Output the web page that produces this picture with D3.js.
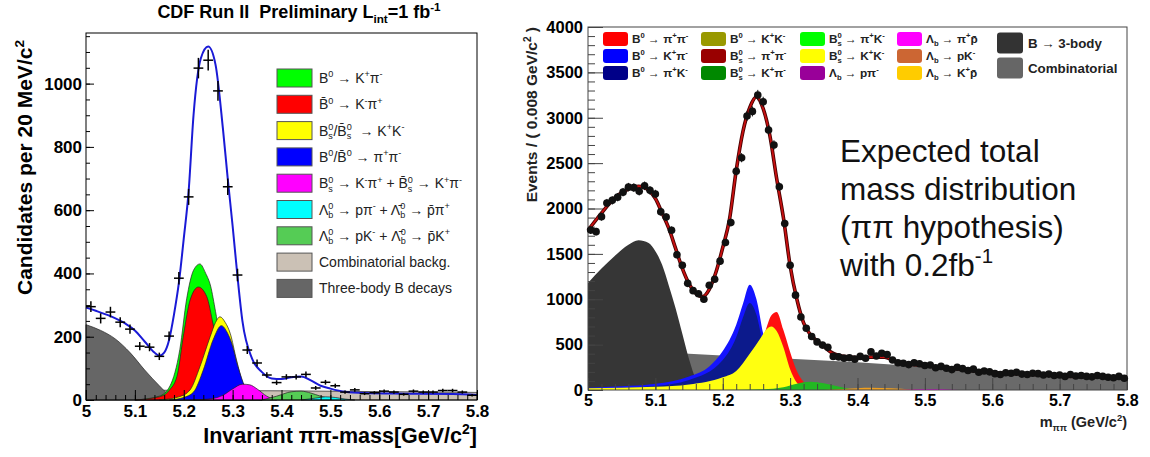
<!DOCTYPE html>
<html>
<head>
<meta charset="utf-8">
<script src="https://cdn.jsdelivr.net/npm/d3@7"></script>
<style>
body { margin: 0; background: #fff; }
text { font-family: "Liberation Sans", Arial, Helvetica, sans-serif; }
</style>
</head>
<body>
<svg id="chart" width="1150" height="457"></svg>
<script>
// ---------- left panel (CDF) ----------
const leftBinStart = 5.0, leftBinWidth = 0.02
const leftCounts = [295, 258, 278, 246, 224, 170, 167, 138, 202, 385,
    642, 1049, 1074, 977, 674, 395, 158, 117, 79, 55,
    73, 73, 81, 38, 56, 45, 25, 32, 20, 23,
    28, 25, 18, 28, 25, 25, 30, 30, 25, 15]
const leftFit = [[5.0, 292], [5.02, 282], [5.05, 265], [5.08, 242], [5.1, 220], [5.12, 185], [5.14, 150],
    [5.15, 140], [5.16, 150], [5.17, 190], [5.18, 270], [5.19, 370], [5.2, 510], [5.21, 660], [5.22, 900],
    [5.235, 1080], [5.25, 1117], [5.265, 1060], [5.28, 860], [5.29, 700], [5.3, 550], [5.31, 390],
    [5.32, 250], [5.34, 130], [5.36, 88], [5.38, 68], [5.4, 66], [5.42, 72], [5.44, 74], [5.46, 62],
    [5.48, 45], [5.5, 36], [5.53, 26], [5.57, 22], [5.65, 20], [5.75, 19], [5.8, 16]]
const leftCombinatorial = [[5.0, 32], [5.4, 29], [5.8, 24]]
const leftThreeBody = [[5.0, 238], [5.03, 220], [5.06, 193], [5.09, 150], [5.12, 95], [5.15, 45], [5.17, 15], [5.185, 0]]
const leftKpi = [[5.1, 0], [5.15, 12], [5.172, 45], [5.192, 160], [5.206, 320], [5.22, 410], [5.233, 430],
    [5.245, 400], [5.255, 360], [5.265, 280], [5.28, 150], [5.3, 50], [5.33, 10], [5.36, 0]]
const leftKbarPi = [[5.1, 0], [5.15, 10], [5.17, 30], [5.186, 74], [5.2, 210], [5.213, 316], [5.23, 357],
    [5.247, 327], [5.26, 240], [5.275, 120], [5.29, 40], [5.31, 10], [5.33, 0]]
const leftKK = [[5.15, 0], [5.19, 10], [5.213, 32], [5.233, 105], [5.254, 200], [5.265, 245], [5.274, 263],
    [5.285, 245], [5.295, 211], [5.308, 126], [5.321, 53], [5.335, 15], [5.36, 0]]
const leftPiPi = [[5.17, 0], [5.2, 8], [5.22, 25], [5.24, 95], [5.26, 190], [5.277, 235], [5.29, 210],
    [5.298, 180], [5.311, 105], [5.325, 42], [5.34, 8], [5.36, 0]]
const leftBsKpi = [[5.22, 0], [5.26, 5], [5.28, 15], [5.3, 35], [5.32, 50], [5.335, 48], [5.35, 35], [5.37, 12], [5.39, 0]]
const leftLbPK = [[5.36, 0], [5.39, 12], [5.42, 26], [5.44, 28], [5.46, 22], [5.48, 12], [5.5, 5], [5.53, 0]]
const leftLbPPi = [[5.44, 0], [5.47, 6], [5.49, 10], [5.51, 8], [5.53, 3], [5.55, 0]]

const leftLegend = [
    ["B^{0} → K^{+}π^{-}", "#00ff00"],
    ["B\u0304^{0} → K^{-}π^{+}", "#ff0000"],
    ["B_{s}^{0}/B\u0304_{s}^{0}\u00a0 → K^{+}K^{-}", "#ffff00"],
    ["B^{0}/B\u0304^{0} → π^{+}π^{-}", "#0000ff"],
    ["B_{s}^{0} → K^{-}π^{+} + B\u0304_{s}^{0} → K^{+}π^{-}", "#ff00ff"],
    ["Λ_{b}^{0} → pπ^{-} + Λ\u0304_{b}^{0} → p\u0304π^{+}", "#00ffff"],
    ["Λ_{b}^{0} → pK^{-} + Λ\u0304_{b}^{0} → p\u0304K^{+}", "#55cc55"],
    ["Combinatorial backg.", "#cbc1b5"],
    ["Three-body B decays", "#666666"]
]

// ---------- right panel (expected) ----------
const rightBinStart = 5.0, rightBinWidth = 0.008
const rightCounts = [1762, 1745, 1910, 2060, 2090, 2125, 2180, 2235, 2230, 2190,
    2250, 2200, 2160, 1965, 1905, 1760, 1490, 1375, 1175, 1095,
    1060, 1000, 1155, 1220, 1420, 1625, 1845, 2410, 2560, 3020,
    3070, 3250, 3175, 2865, 2700, 2240, 1835, 1375, 1045, 805,
    680, 590, 530, 495, 470, 370, 365, 350, 355, 340,
    370, 350, 420, 375, 405, 390, 330, 300, 295, 280,
    300, 290, 270, 275, 245, 260, 240, 225, 250, 235,
    215, 230, 195, 210, 200, 180, 170, 190, 185, 195,
    175, 170, 185, 180, 165, 175, 160, 165, 150, 170,
    155, 160, 150, 145, 160, 150, 140, 135, 150, 130]
const rightFit = [[5.0, 1760], [5.02, 1950], [5.04, 2120], [5.06, 2215], [5.075, 2245], [5.09, 2200],
    [5.1, 2110], [5.11, 1950], [5.12, 1780], [5.13, 1560], [5.14, 1340], [5.15, 1170], [5.16, 1065],
    [5.17, 1030], [5.18, 1110], [5.19, 1300], [5.2, 1570], [5.21, 1880], [5.22, 2420], [5.23, 2850],
    [5.24, 3110], [5.25, 3230], [5.26, 3100], [5.27, 2800], [5.28, 2330], [5.29, 1900], [5.3, 1370],
    [5.31, 1000], [5.32, 740], [5.33, 610], [5.34, 540], [5.35, 480], [5.36, 420], [5.37, 385],
    [5.39, 362], [5.4, 355], [5.42, 362], [5.44, 362], [5.46, 305], [5.5, 268], [5.55, 232],
    [5.6, 192], [5.65, 177], [5.7, 156], [5.75, 148], [5.8, 142]]
const rightCombinatorial = [[5.0, 470], [5.15, 400], [5.3, 345], [5.4, 305], [5.5, 255], [5.6, 210], [5.7, 170], [5.8, 135]]
const rightThreeBody = [[5.0, 1180], [5.02, 1340], [5.04, 1480], [5.06, 1600], [5.075, 1650], [5.09, 1620],
    [5.1, 1530], [5.11, 1380], [5.12, 1150], [5.13, 900], [5.14, 620], [5.15, 340], [5.16, 120], [5.17, 0]]
const rightKpi = [[5.0, 25], [5.05, 40], [5.1, 68], [5.15, 150], [5.18, 260], [5.2, 430], [5.22, 720],
    [5.23, 950], [5.24, 1160], [5.25, 1000], [5.26, 620], [5.27, 300], [5.28, 150], [5.3, 60], [5.33, 20], [5.4, 5]]
const rightPiK = [[5.0, 15], [5.1, 45], [5.15, 110], [5.2, 330], [5.22, 580], [5.23, 800], [5.24, 960],
    [5.25, 830], [5.26, 500], [5.27, 250], [5.3, 40], [5.33, 5]]
const rightPiPi = [[5.0, 8], [5.2, 60], [5.24, 220], [5.255, 450], [5.265, 690], [5.272, 820], [5.28, 860],
    [5.29, 660], [5.3, 420], [5.31, 210], [5.32, 90], [5.33, 30], [5.35, 5]]
const rightBsKK = [[5.0, 20], [5.1, 35], [5.15, 60], [5.2, 140], [5.22, 210], [5.24, 400], [5.255, 560],
    [5.265, 670], [5.272, 700], [5.28, 650], [5.29, 470], [5.3, 230], [5.31, 80], [5.32, 20], [5.34, 0]]
const rightBsKpi = [[5.2, 0], [5.26, 8], [5.29, 30], [5.31, 70], [5.33, 90], [5.35, 75], [5.37, 40], [5.39, 10], [5.41, 0]]
const rightLbKp = [[5.35, 0], [5.38, 12], [5.42, 25], [5.45, 18], [5.48, 5], [5.5, 0]]
const rightLbPip = [[5.46, 0], [5.48, 6], [5.51, 8], [5.54, 4], [5.56, 0]]

const rightLegend = [
    ["B^{0} → π^{+}π^{-}", "#ff0000"], ["B^{0} → K^{+}π^{-}", "#0000ff"], ["B^{0} → π^{+}K^{-}", "#000088"],
    ["B^{0} → K^{+}K^{-}", "#999900"], ["B_{s}^{0} → π^{+}π^{-}", "#990000"], ["B_{s}^{0} → K^{+}π^{-}", "#008800"],
    ["B_{s}^{0} → π^{+}K^{-}", "#00ff00"], ["B_{s}^{0} → K^{+}K^{-}", "#ffff00"], ["Λ_{b} → pπ^{-}", "#990099"],
    ["Λ_{b} → π^{+}p\u0304", "#ff00ff"], ["Λ_{b} → pK^{-}", "#cc6633"], ["Λ_{b} → K^{+}p\u0304", "#ffcc00"]
]
const rightLegendBig = [["B → 3-body", "#333333"], ["Combinatorial", "#666666"]]
const noteLines = ["Expected total", "mass distribution", "(ππ hypothesis)", "with 0.2fb^{-1}"]

const FONT = '"Liberation Sans", Arial, Helvetica, sans-serif'
const svg = d3.select("#chart")
svg.append("rect").attr("width", 1150).attr("height", 457).attr("fill", "#fff")

// text with ^{sup} and _{sub}
function rich(t, str, size) {
    const toks = str.match(/\^\{[^}]*\}|_\{[^}]*\}|[^^_]+/g)
    let shift = 0, prevSub = null
    toks.forEach(tok => {
        let kind = "n", txt = tok
        if (tok[0] == "^") { kind = "sup"; txt = tok.slice(2, -1) }
        else if (tok[0] == "_") { kind = "sub"; txt = tok.slice(2, -1) }
        const target = kind == "sup" ? -0.4 * size : kind == "sub" ? 0.25 * size : 0
        const ts = t.append("tspan").text(txt)
            .attr("dy", target - shift)
            .attr("font-size", kind == "n" ? size : size * 0.65)
        if (kind == "sup" && prevSub) ts.attr("dx", -prevSub.node().getComputedTextLength())
        prevSub = kind == "sub" ? ts : null
        shift = target
    })
    return t
}

function drawArea(g, x, y, pts, fill) {
    g.append("path")
        .datum(pts)
        .attr("fill", fill)
        .attr("stroke", "#222")
        .attr("stroke-width", 0.7)
        .attr("d", d3.area()
            .x(d => x(d[0]))
            .y0(y(0))
            .y1(d => y(d[1]))
            .curve(d3.curveMonotoneX))
}

function styleAxis(g, size) {
    g.attr("font-size", size).attr("font-weight", "bold").attr("font-family", FONT)
    g.select(".domain").remove()
    g.selectAll("line").attr("stroke", "#000")
}

// ================= LEFT =================
const xL = d3.scaleLinear().domain([5, 5.8]).range([86, 477])
const yL = d3.scaleLinear().domain([0, 1160]).range([400, 33])
const gL = svg.append("g")

drawArea(gL, xL, yL, leftCombinatorial, "#cbc1b5")
drawArea(gL, xL, yL, leftThreeBody, "#666666")
drawArea(gL, xL, yL, leftKpi, "#00ff00")
drawArea(gL, xL, yL, leftKbarPi, "#ff0000")
drawArea(gL, xL, yL, leftKK, "#ffff00")
drawArea(gL, xL, yL, leftPiPi, "#0000ff")
drawArea(gL, xL, yL, leftBsKpi, "#ff00ff")
drawArea(gL, xL, yL, leftLbPK, "#55cc55")
drawArea(gL, xL, yL, leftLbPPi, "#00ffff")

// fit
gL.append("path")
    .datum(leftFit)
    .attr("fill", "none")
    .attr("stroke", "#1a1ad6")
    .attr("stroke-width", 2)
    .attr("d", d3.line().x(d => xL(d[0])).y(d => yL(d[1])).curve(d3.curveMonotoneX))

// data crosses
leftCounts.forEach((c, i) => {
    const m = leftBinStart + (i + 0.5) * leftBinWidth
    const e = Math.sqrt(c)
    gL.append("line").attr("x1", xL(m - leftBinWidth / 2)).attr("x2", xL(m + leftBinWidth / 2))
        .attr("y1", yL(c)).attr("y2", yL(c)).attr("stroke", "#000").attr("stroke-width", 1.5)
    gL.append("line").attr("x1", xL(m)).attr("x2", xL(m))
        .attr("y1", yL(c - e)).attr("y2", yL(c + e)).attr("stroke", "#000").attr("stroke-width", 1.5)
})

// axes
gL.append("g").attr("transform", "translate(86,0)")
    .call(d3.axisLeft(yL).tickValues(d3.range(0, 1160, 50)).tickSize(-4).tickFormat(""))
    .call(g => styleAxis(g, 17))
gL.append("g").attr("transform", "translate(86,0)")
    .call(d3.axisLeft(yL).tickValues(d3.range(0, 1001, 200)).tickSize(-8).tickPadding(4).tickFormat(d3.format("d")))
    .call(g => styleAxis(g, 17))
gL.append("g").attr("transform", "translate(0,400)")
    .call(d3.axisBottom(xL).tickValues(d3.range(0, 41).map(i => 5 + i * 0.02)).tickSize(-5).tickFormat(""))
    .call(g => styleAxis(g, 17))
gL.append("g").attr("transform", "translate(0,400)")
    .call(d3.axisBottom(xL).tickValues(d3.range(0, 9).map(i => 5 + i * 0.1)).tickSize(-10).tickPadding(5)
        .tickFormat(d => String(+d.toFixed(1))))
    .call(g => styleAxis(g, 17))
gL.append("rect").attr("x", 86).attr("y", 33).attr("width", 391).attr("height", 367)
    .attr("fill", "none").attr("stroke", "#000").attr("stroke-width", 1)

// titles
rich(gL.append("text").attr("x", 299).attr("y", 18).attr("text-anchor", "middle")
    .attr("font-weight", "bold"), "CDF Run II\u00a0 Preliminary L_{int}=1 fb^{-1}", 18)
rich(gL.append("text").attr("transform", "translate(32,40) rotate(-90)").attr("text-anchor", "end")
    .attr("font-weight", "bold"), "Candidates per 20 MeV/c^{2}", 21)
rich(gL.append("text").attr("x", 477).attr("y", 443).attr("text-anchor", "end")
    .attr("font-weight", "bold"), "Invariant ππ-mass[GeV/c^{2}]", 21.5)

// legend
leftLegend.forEach((d, i) => {
    const cy = 78 + i * 26.3
    gL.append("rect").attr("x", 277).attr("y", cy - 9).attr("width", 35).attr("height", 18)
        .attr("fill", d[1]).attr("stroke", "#555").attr("stroke-width", 1)
    rich(gL.append("text").attr("x", 319).attr("y", cy + 5).attr("fill", "#222"), d[0], 14)
})

// ================= RIGHT =================
const xR = d3.scaleLinear().domain([5, 5.8]).range([588, 1127])
const yR = d3.scaleLinear().domain([0, 4000]).range([390, 27])
const gR = svg.append("g")

drawArea(gR, xR, yR, rightCombinatorial, "#6a6a6a")
drawArea(gR, xR, yR, rightThreeBody, "#363636")
drawArea(gR, xR, yR, rightPiPi, "#ff1010")
drawArea(gR, xR, yR, rightKpi, "#1414ff")
drawArea(gR, xR, yR, rightPiK, "#0c1a8c")
drawArea(gR, xR, yR, rightBsKK, "#ffff10")
drawArea(gR, xR, yR, rightBsKpi, "#22b822")
drawArea(gR, xR, yR, rightLbKp, "#f0a020")
drawArea(gR, xR, yR, rightLbPip, "#ff00ff")
gR.selectAll("path").attr("stroke", "none")

// axes
gR.append("g").attr("transform", "translate(588,0)")
    .call(d3.axisLeft(yR).tickValues(d3.range(0, 4001, 100)).tickSize(-7).tickFormat(""))
    .call(g => styleAxis(g, 16.5))
gR.append("g").attr("transform", "translate(588,0)")
    .call(d3.axisLeft(yR).tickValues(d3.range(0, 4001, 500)).tickSize(-15).tickPadding(5).tickFormat(d3.format("d")))
    .call(g => styleAxis(g, 16.5))
gR.append("g").attr("transform", "translate(0,390)")
    .call(d3.axisBottom(xR).tickValues(d3.range(0, 41).map(i => 5 + i * 0.02)).tickSize(-6).tickFormat(""))
    .call(g => styleAxis(g, 16))
gR.append("g").attr("transform", "translate(0,390)")
    .call(d3.axisBottom(xR).tickValues(d3.range(0, 9).map(i => 5 + i * 0.1)).tickSize(-12).tickPadding(5)
        .tickFormat(d => String(+d.toFixed(1))))
    .call(g => styleAxis(g, 16))
gR.selectAll("line").attr("stroke", "#444")
gR.append("rect").attr("x", 588).attr("y", 27).attr("width", 539).attr("height", 363)
    .attr("fill", "none").attr("stroke", "#444").attr("stroke-width", 1)

// fit
gR.append("path")
    .datum(rightFit)
    .attr("fill", "none")
    .attr("stroke", "#4a0000")
    .attr("stroke-width", 3.6)
    .attr("d", d3.line().x(d => xR(d[0])).y(d => yR(d[1])).curve(d3.curveMonotoneX))
gR.append("path")
    .datum(rightFit)
    .attr("fill", "none")
    .attr("stroke", "#c81010")
    .attr("stroke-width", 1.8)
    .attr("d", d3.line().x(d => xR(d[0])).y(d => yR(d[1])).curve(d3.curveMonotoneX))

// data dots
rightCounts.forEach((c, i) => {
    const m = rightBinStart + (i + 0.5) * rightBinWidth
    const e = Math.sqrt(c)
    gR.append("line").attr("x1", xR(m)).attr("x2", xR(m))
        .attr("y1", yR(c - e)).attr("y2", yR(c + e)).attr("stroke", "#111").attr("stroke-width", 1)
    gR.append("circle").attr("cx", xR(m)).attr("cy", yR(c)).attr("r", 3.8).attr("fill", "#111")
})

// titles
rich(gR.append("text").attr("transform", "translate(537,27) rotate(-90)").attr("text-anchor", "end")
    .attr("font-weight", "bold").attr("fill", "#222"), "Events / ( 0.008 GeV/c^{2} )", 15.5)
rich(gR.append("text").attr("x", 1127).attr("y", 427).attr("text-anchor", "end")
    .attr("font-weight", "bold").attr("fill", "#222"), "m_{ππ} (GeV/c^{2})", 14.5)

// legend
const colX = [603, 701, 800, 897]
rightLegend.forEach((d, i) => {
    const col = Math.floor(i / 3), row = i % 3
    const cy = 39 + row * 17
    gR.append("rect").attr("x", colX[col]).attr("y", cy - 7).attr("width", 25).attr("height", 14)
        .attr("rx", 3).attr("fill", d[1])
    rich(gR.append("text").attr("x", colX[col] + 29).attr("y", cy + 4)
        .attr("font-weight", "bold").attr("fill", "#222"), d[0], 11.8)
})
rightLegendBig.forEach((d, i) => {
    const cy = 43 + i * 25
    gR.append("rect").attr("x", 997).attr("y", cy - 10.5).attr("width", 26).attr("height", 21)
        .attr("rx", 3).attr("fill", d[1])
    rich(gR.append("text").attr("x", 1028).attr("y", cy + 4.5)
        .attr("font-weight", "bold").attr("fill", "#222"), d[0], 13.3)
})

// note
noteLines.forEach((s, i) => {
    rich(gR.append("text").attr("x", 840).attr("y", 162 + i * 38).attr("fill", "#111"), s, 31.5)
})
</script>
</body>
</html>
